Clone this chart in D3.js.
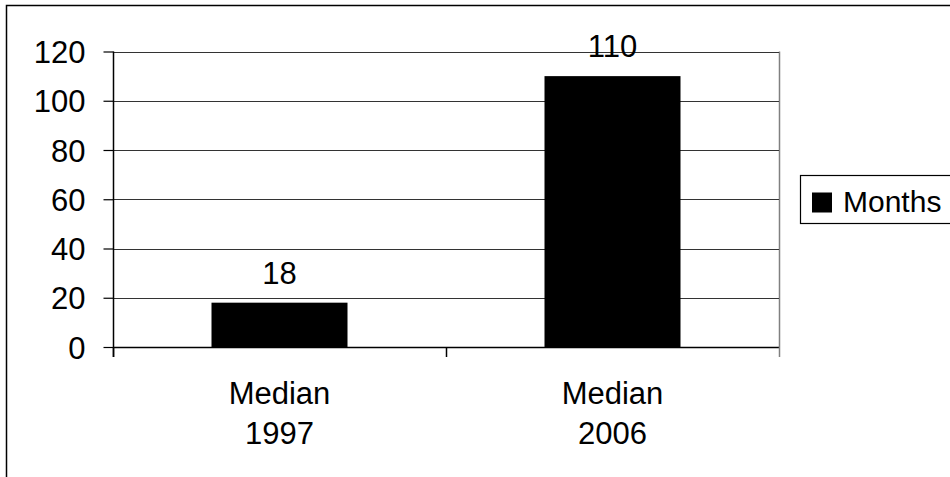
<!DOCTYPE html>
<html>
<head>
<meta charset="utf-8">
<script src="https://cdn.jsdelivr.net/npm/d3@7"></script>
<style>
  html, body { margin: 0; padding: 0; background: #fff; }
  svg { display: block; }
  text { font-family: "Liberation Sans", Arial, sans-serif; fill: #000; }
</style>
</head>
<body>
<svg id="chart" width="950" height="477"></svg>
<script>
// Median duration, in months
const categories = [["Median", "1997"], ["Median", "2006"]];
const months = [18, 110];
const yTicks = [0, 20, 40, 60, 80, 100, 120];
const seriesName = "Months";

const svg = d3.select("#chart");
const plot = { left: 113, right: 779, top: 51.5, bottom: 347 };
const fontSize = 31;
const legendFontSize = 30;

// Outer chart frame (runs off the right and bottom edges)
svg.append("rect")
  .attr("x", 6.5).attr("y", 5.5)
  .attr("width", 1000).attr("height", 1000)
  .attr("fill", "#fff").attr("stroke", "#000").attr("stroke-width", 1.5);

const keys = categories.map(c => c.join(" "));
const gap = (333 - 136) / 333;
const x = d3.scaleBand()
  .domain(keys)
  .range([plot.left, plot.right])
  .paddingInner(gap)
  .paddingOuter(gap / 2);

const y = d3.scaleLinear()
  .domain([0, 120])
  .range([plot.bottom, plot.top]);

// Plot-area right border
svg.append("line")
  .attr("x1", plot.right + 0.5).attr("x2", plot.right + 0.5)
  .attr("y1", plot.top).attr("y2", plot.bottom)
  .attr("stroke", "#808080").attr("stroke-width", 1.5);

// Horizontal gridlines
svg.append("g")
  .selectAll("line")
  .data(yTicks.filter(d => d > 0))
  .join("line")
  .attr("x1", plot.left).attr("x2", plot.right)
  .attr("y1", d => Math.round(y(d)) + 0.5)
  .attr("y2", d => Math.round(y(d)) + 0.5)
  .attr("stroke", "#333").attr("stroke-width", 1);

// Bars
svg.append("g")
  .selectAll("rect")
  .data(months)
  .join("rect")
  .attr("x", (d, i) => x(keys[i]))
  .attr("width", x.bandwidth())
  .attr("y", d => y(d))
  .attr("height", d => y(0) - y(d))
  .attr("fill", "#000");

// Value labels
svg.append("g")
  .selectAll("text")
  .data(months)
  .join("text")
  .attr("x", (d, i) => x(keys[i]) + x.bandwidth() / 2)
  .attr("y", d => y(d) - 19)
  .attr("text-anchor", "middle")
  .attr("font-size", fontSize)
  .text(d => d);

// Y axis
const yAxis = d3.axisLeft(y)
  .tickValues(yTicks)
  .tickSize(10)
  .tickPadding(18)
  .tickFormat(d3.format("d"));
const gy = svg.append("g")
  .attr("transform", `translate(${plot.left + 0.5},0)`)
  .call(yAxis);
gy.select(".domain").attr("stroke", "#000").attr("stroke-width", 1.5)
  .attr("d", `M0,${plot.top}V${plot.bottom + 10}`);
gy.selectAll(".tick line").attr("stroke", "#000").attr("stroke-width", 1.2);
gy.selectAll(".tick text")
  .attr("font-size", fontSize)
  .attr("font-family", "Liberation Sans, Arial, sans-serif")
  .attr("fill", "#000")
  .attr("dy", "0.36em");

// X axis: baseline, category boundary ticks, two-line labels
svg.append("line")
  .attr("x1", plot.left).attr("x2", plot.right)
  .attr("y1", plot.bottom + 0.5).attr("y2", plot.bottom + 0.5)
  .attr("stroke", "#000").attr("stroke-width", 1.5);

const bounds = d3.range(keys.length + 1).map(i => plot.left + i * x.step());
svg.append("g")
  .selectAll("line")
  .data(bounds)
  .join("line")
  .attr("x1", d => d + 0.5).attr("x2", d => d + 0.5)
  .attr("y1", plot.bottom).attr("y2", plot.bottom + 10)
  .attr("stroke", (d, i) => i === bounds.length - 1 ? "#808080" : "#000")
  .attr("stroke-width", 1.5);

const labels = svg.append("g")
  .selectAll("text")
  .data(categories)
  .join("text")
  .attr("x", (d, i) => x(keys[i]) + x.bandwidth() / 2)
  .attr("y", 404)
  .attr("text-anchor", "middle")
  .attr("font-size", fontSize);
labels.selectAll("tspan")
  .data(d => d)
  .join("tspan")
  .attr("x", function () { return this.parentNode.getAttribute("x"); })
  .attr("dy", (d, i) => i === 0 ? 0 : 40)
  .text(d => d);

// Legend
const legend = svg.append("g");
legend.append("rect")
  .attr("x", 800.5).attr("y", 175.5)
  .attr("width", 300).attr("height", 48)
  .attr("fill", "#fff").attr("stroke", "#000").attr("stroke-width", 1.2);
legend.append("rect")
  .attr("x", 812).attr("y", 192.5)
  .attr("width", 20).attr("height", 20)
  .attr("fill", "#000");
legend.append("text")
  .attr("x", 843).attr("y", 212)
  .attr("font-size", legendFontSize)
  .text(seriesName);
</script>
</body>
</html>
